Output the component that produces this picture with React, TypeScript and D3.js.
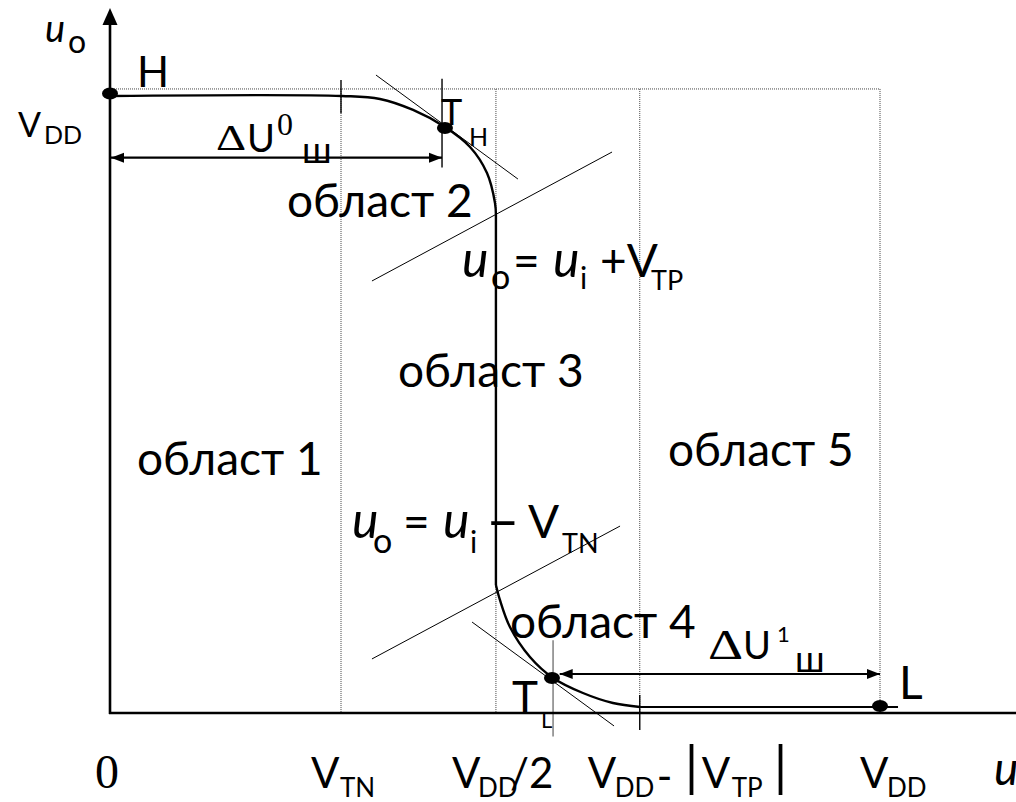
import React from "react";
import * as d3 from "d3";

// ---- data (volts, VDD = 5) ----
const VDD = 5;
const VTN = 1.5;
const VTP_ABS = 1.56;
const HALF = VDD / 2;
const dottedX = [VTN, 2.506, VDD - VTP_ABS, VDD];
const dottedTop = 5.057;

const upperCurve: [number, number][] = [
  [0, 5.0], [1.506, 5.0], [1.753, 4.976], [1.968, 4.887], [2.175, 4.749],
  [2.338, 4.587], [2.448, 4.376], [2.5, 4.133], [2.506, 4.036],
];
const verticalPart: [number, number][] = [[2.506, 4.036], [2.506, 1.037]];
const lowerCurve: [number, number][] = [
  [2.506, 1.037], [2.532, 0.916], [2.597, 0.697], [2.727, 0.454], [2.877, 0.284],
  [3.071, 0.162], [3.266, 0.081], [3.442, 0.049],
];
const lowLevel: [number, number][] = [[3.442, 0.049], [5.117, 0.049]];

// thin construction lines
const tangentH: [number, number][] = [[1.727, 5.17], [2.649, 4.327]];
const lineVTP: [number, number][] = [[1.701, 3.501], [3.26, 4.546]];
const lineVTN: [number, number][] = [[1.701, 0.438], [3.312, 1.515]];
const tangentL: [number, number][] = [[2.351, 0.737], [3.273, -0.105]];

// points
const pointH: [number, number] = [0, 5.02];
const pointTH: [number, number] = [2.175, 4.741];
const pointTL: [number, number] = [2.87, 0.284];
const pointL: [number, number] = [5.0, 0.057];

// short marker segments
const markerVTN: [number, number][] = [[VTN, 5.13], [VTN, 4.86]];
const markerTH: [number, number][] = [[2.156, 5.14], [2.156, 4.42]];
const markerTL: [number, number][] = [[2.877, 0.59], [2.877, -0.19]];
const markerVTP: [number, number][] = [[VDD - VTP_ABS, 0.146], [VDD - VTP_ABS, -0.138]];

// noise margin arrows
const arrowU0: [number, number][] = [[0, 4.5], [2.156, 4.5]];
const arrowU1: [number, number][] = [[2.92, 0.316], [5.0, 0.316]];

const W = 1016;
const H = 802;

export default function App() {
  const x = d3.scaleLinear().domain([0, VDD]).range([110, 880]);
  const y = d3.scaleLinear().domain([0, VDD]).range([713, 96]);
  const line = d3.line<[number, number]>().x((d) => x(d[0])).y((d) => y(d[1]));
  const smooth = d3
    .line<[number, number]>()
    .x((d) => x(d[0]))
    .y((d) => y(d[1]))
    .curve(d3.curveCatmullRom.alpha(0.5));

  const sans = "Lato, 'Open Sans', sans-serif";
  const serif = "'Liberation Serif', 'DejaVu Serif', serif";

  const arrowHead = (tipX: number, tipY: number, dir: number, len = 13, half = 5) =>
    `M${tipX},${tipY} L${tipX - dir * len},${tipY - half} L${tipX - dir * len},${tipY + half} Z`;

  const ax0 = x(0);
  const ay0 = y(0);
  const xT = x(VDD - VTP_ABS);

  return (
    <svg
      width={W}
      height={H}
      style={{ position: "absolute", left: 0, top: 0, background: "#fff" }}
    >
      <rect x={0} y={0} width={W} height={H} fill="#fff" />
      {/* dotted grid */}
      <g stroke="#444" strokeWidth={1} strokeDasharray="1,1" fill="none">
        <line x1={x(0)} x2={x(VDD)} y1={y(dottedTop)} y2={y(dottedTop)} />
        {dottedX.map((v, i) => (
          <line key={i} x1={x(v)} x2={x(v)} y1={y(dottedTop)} y2={y(0)} />
        ))}
      </g>

      {/* construction lines */}
      <g stroke="#000" strokeWidth={1} fill="none">
        <path d={line(tangentH)!} />
        <path d={line(lineVTP)!} />
        <path d={line(lineVTN)!} />
        <path d={line(tangentL)!} />
      </g>

      {/* markers */}
      <g fill="none" strokeWidth={1.4}>
        <path d={line(markerVTN)!} stroke="#000" />
        <path d={line(markerTH)!} stroke="#000" />
        <path d={line(markerTL)!} stroke="#777" />
        <path d={line(markerVTP)!} stroke="#000" />
      </g>

      {/* axes */}
      <g stroke="#000" strokeWidth={2.6} fill="none">
        <line x1={ax0} x2={ax0} y1={ay0 + 1} y2={20} />
        <line x1={ax0 - 1} x2={W} y1={ay0} y2={ay0} />
      </g>
      <path d={`M${ax0},8 L${ax0 - 7.5},25 L${ax0 + 7.5},25 Z`} fill="#000" />

      {/* transfer curve */}
      <g stroke="#000" strokeWidth={2.4} fill="none">
        <path d={smooth(upperCurve)!} />
        <path d={line(verticalPart)!} />
        <path d={smooth(lowerCurve)!} />
        <path d={line(lowLevel)!} strokeWidth={2} />
      </g>

      {/* noise margin arrows */}
      <g stroke="#000" strokeWidth={2.2}>
        <path d={line(arrowU0)!} />
        <path d={line(arrowU1)!} />
      </g>
      <g fill="#000">
        <path d={arrowHead(x(arrowU0[0][0]) + 1, y(arrowU0[0][1]), -1)} />
        <path d={arrowHead(x(arrowU0[1][0]), y(arrowU0[1][1]), 1)} />
        <path d={arrowHead(x(arrowU1[0][0]), y(arrowU1[0][1]), -1)} />
        <path d={arrowHead(x(arrowU1[1][0]), y(arrowU1[1][1]), 1)} />
      </g>

      {/* points */}
      <g fill="#000">
        {[pointH, pointTH, pointTL, pointL].map((p, i) => (
          <ellipse key={i} cx={x(p[0])} cy={y(p[1])} rx={8} ry={6} />
        ))}
      </g>

      {/* texts */}
      <g fill="#000" fontFamily={sans}>
        {/* axis title uo */}
        <text x={45} y={42} fontSize={38} fontStyle="italic">u</text>
        <text x={68} y={53} fontSize={32}>o</text>

        <text x={137} y={87} fontSize={42}>H</text>

        <text x={18} y={137} fontSize={34}>V</text>
        <text x={44} y={144} fontSize={25}>DD</text>

        {/* ΔU0ш */}
        <text transform="translate(216,150) scale(1.3,1)" fontSize={36} fontFamily={serif}>Δ</text>
        <text x={247} y={152} fontSize={38}>U</text>
        <text x={277} y={135} fontSize={32} fontFamily={serif}>0</text>
        <text x={302} y={163} fontSize={36}>ш</text>

        {/* TH */}
        <text x={441} y={125} fontSize={36}>T</text>
        <text x={469} y={146} fontSize={25}>H</text>

        <text x={287} y={217} fontSize={46}>област 2</text>
        <text x={398} y={387} fontSize={46}>област 3</text>
        <text x={137} y={475} fontSize={46}>област 1</text>
        <text x={668} y={466} fontSize={46}>област 5</text>
        <text x={510} y={638} fontSize={46}>област 4</text>

        {/* uo = ui + VTP */}
        <text x={462} y={277} fontSize={50} fontStyle="italic">u</text>
        <text x={491} y={289} fontSize={34}>o</text>
        <text x={513} y={277} fontSize={46}>=</text>
        <text x={553} y={277} fontSize={50} fontStyle="italic">u</text>
        <text x={580} y={289} fontSize={30}>i</text>
        <text x={600} y={277} fontSize={46}>+V</text>
        <text x={651} y={290} fontSize={27}>TP</text>

        {/* uo = ui − VTN */}
        <text x={352} y={538} fontSize={50} fontStyle="italic">u</text>
        <text x={373} y={553} fontSize={34}>o</text>
        <text x={403} y={538} fontSize={46}>=</text>
        <text x={443} y={538} fontSize={50} fontStyle="italic">u</text>
        <text x={470} y={553} fontSize={30}>i</text>
        <text x={486} y={540} fontSize={58}>–</text>
        <text x={528} y={538} fontSize={46}>V</text>
        <text x={562} y={553} fontSize={27}>TN</text>

        {/* ΔU1ш */}
        <text transform="translate(708,659) scale(1.3,1)" fontSize={42} fontFamily={serif}>Δ</text>
        <text x={743} y={659} fontSize={38}>U</text>
        <text x={777} y={642} fontSize={22}>1</text>
        <text x={795} y={672} fontSize={36}>ш</text>

        {/* TL */}
        <text x={512} y={713} fontSize={44}>T</text>
        <text x={541} y={728} fontSize={22}>L</text>

        <text x={899} y={699} fontSize={46}>L</text>

        {/* x tick labels */}
        <text x={x(0) - 15} y={788} fontSize={48} fontFamily={serif}>0</text>
        <text x={x(VTN) - 30} y={788} fontSize={42}>V</text>
        <text x={x(VTN) - 1} y={797} fontSize={26}>TN</text>
        <text x={x(HALF) - 43} y={788} fontSize={42}>V</text>
        <text x={x(HALF) - 17} y={797} fontSize={26}>DD</text>
        <text x={x(HALF) + 15} y={788} fontSize={42}>/2</text>
        <text x={xT - 52} y={788} fontSize={42}>V</text>
        <text x={xT - 25} y={797} fontSize={26}>DD</text>
        <text x={xT + 17} y={791} fontSize={42}>-</text>
        <text x={xT + 45} y={786} fontSize={54}>|</text>
        <text x={xT + 62} y={788} fontSize={42}>V</text>
        <text x={xT + 92} y={797} fontSize={26}>TP</text>
        <text x={xT + 134} y={786} fontSize={54}>|</text>
        <text x={x(VDD) - 20} y={788} fontSize={42}>V</text>
        <text x={x(VDD) + 7} y={797} fontSize={26}>DD</text>
        <text x={994} y={785} fontSize={46} fontStyle="italic">u</text>
      </g>
    </svg>
  );
}
